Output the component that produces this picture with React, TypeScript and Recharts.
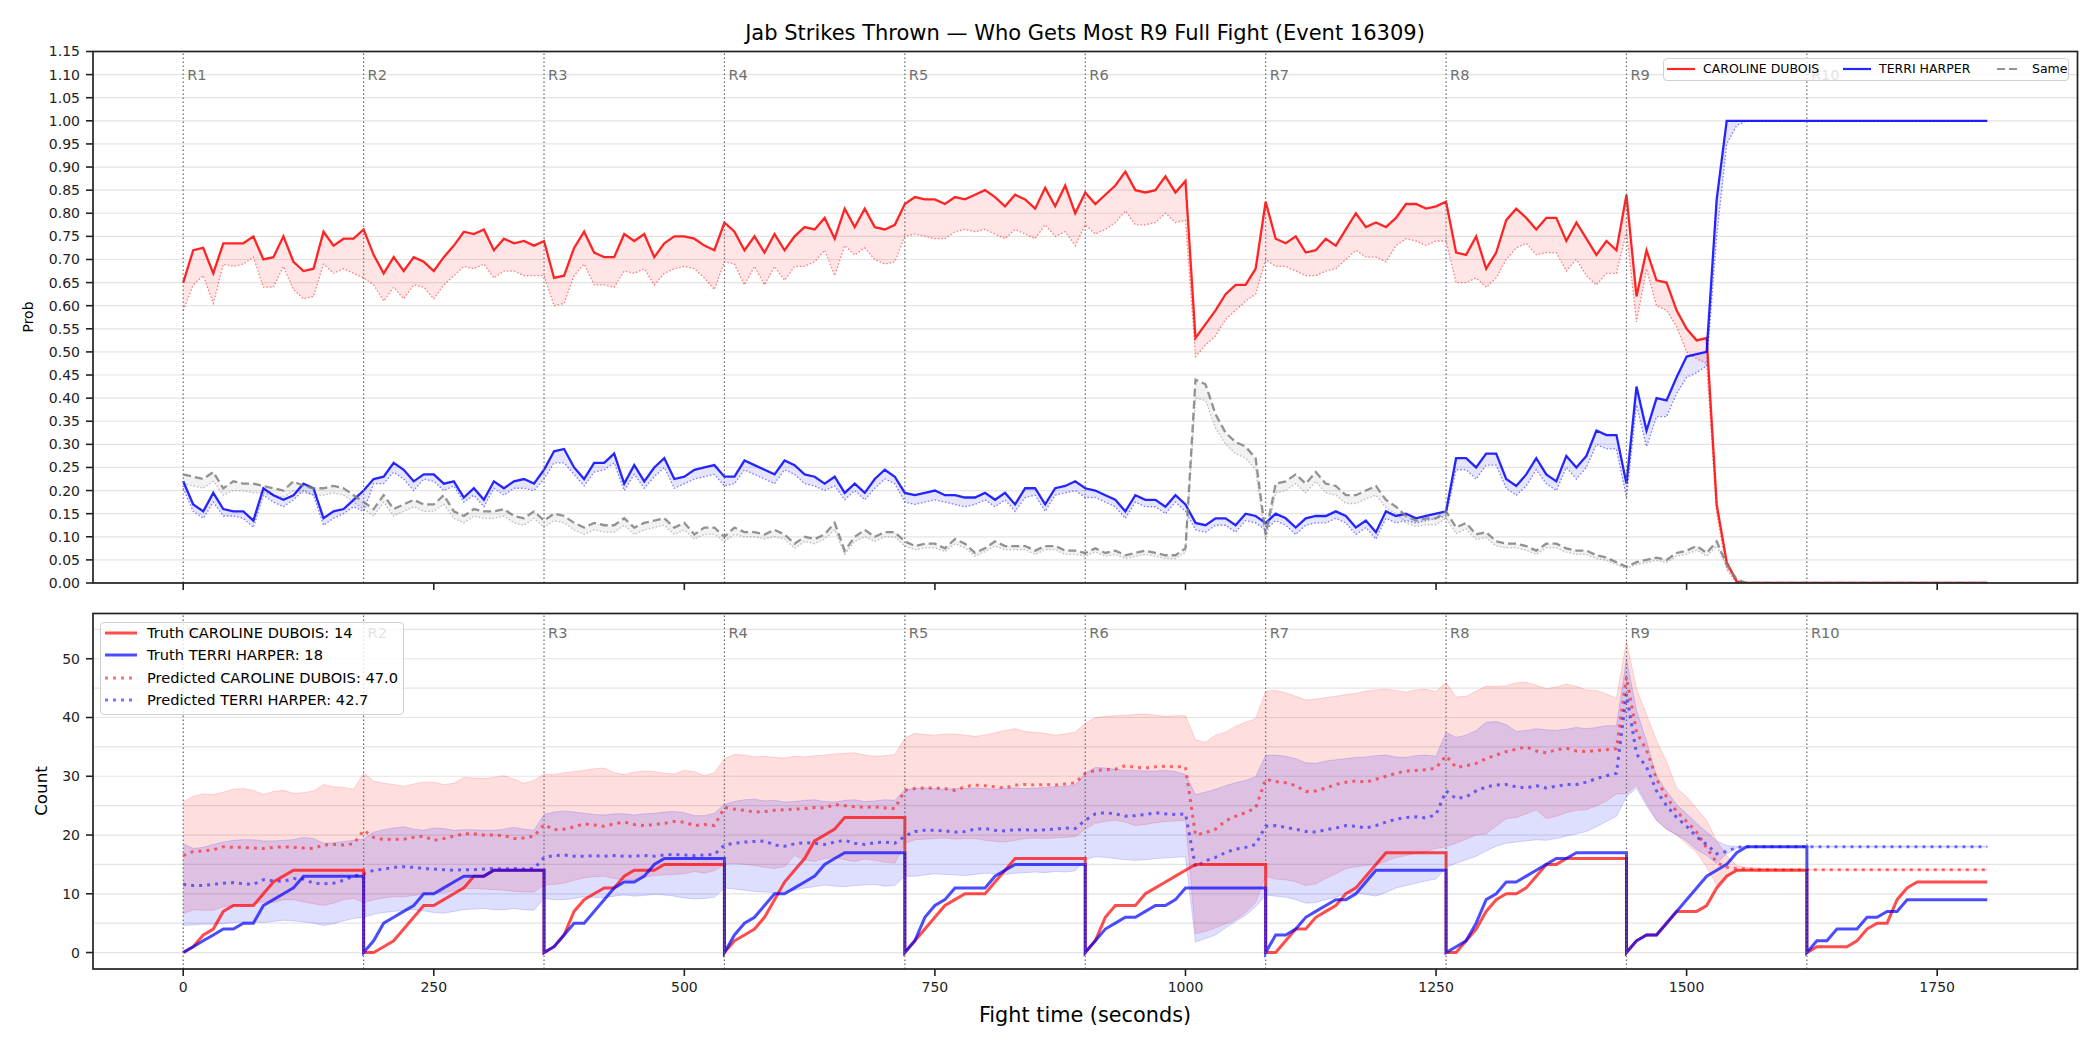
import React from 'react';
import { ComposedChart, Line, Area, XAxis, YAxis, CartesianGrid, ReferenceLine } from 'recharts';

// sample times, one every 10 s over the fight
const secs = Array.from({ length: 181 }, (_, i) => i * 10);
const roundStarts = [0, 180, 360, 540, 720, 900, 1080, 1260, 1440, 1620];
const roundNames = ['R1', 'R2', 'R3', 'R4', 'R5', 'R6', 'R7', 'R8', 'R9', 'R10'];
const timeTicks = [0, 250, 500, 750, 1000, 1250, 1500, 1750];
const probTicks = [0, 0.05, 0.1, 0.15, 0.2, 0.25, 0.3, 0.35, 0.4, 0.45, 0.5, 0.55, 0.6, 0.65, 0.7, 0.75, 0.8, 0.85, 0.9, 0.95, 1, 1.05, 1.1, 1.15];
const countTicks = [0, 10, 20, 30, 40, 50];
const countGrid = [0, 5, 10, 15, 20, 25, 30, 35, 40, 45, 50, 55];

// win probability, CAROLINE DUBOIS (line) and its lower bound (dotted)
const probRed = [
  [0.65, 0.72, 0.725, 0.67, 0.735, 0.735, 0.735, 0.75, 0.7, 0.705, 0.75, 0.695, 0.675, 0.68, 0.76, 0.73, 0.745, 0.745],
  [0.765, 0.71, 0.67, 0.705, 0.675, 0.705, 0.695, 0.675, 0.705, 0.73, 0.76, 0.755, 0.765, 0.72, 0.745, 0.735, 0.74, 0.73],
  [0.74, 0.66, 0.665, 0.725, 0.76, 0.715, 0.705, 0.705, 0.755, 0.74, 0.755, 0.705, 0.735, 0.75, 0.75, 0.745, 0.73, 0.72],
  [0.78, 0.76, 0.72, 0.75, 0.715, 0.755, 0.72, 0.75, 0.77, 0.765, 0.79, 0.745, 0.81, 0.77, 0.81, 0.77, 0.765, 0.775],
  [0.82, 0.835, 0.83, 0.83, 0.82, 0.835, 0.83, 0.84, 0.85, 0.835, 0.815, 0.84, 0.83, 0.81, 0.855, 0.815, 0.86, 0.8],
  [0.845, 0.82, 0.84, 0.86, 0.89, 0.85, 0.845, 0.85, 0.88, 0.845, 0.87, 0.53, 0.56, 0.59, 0.625, 0.645, 0.645, 0.68],
  [0.825, 0.745, 0.735, 0.75, 0.715, 0.72, 0.745, 0.73, 0.765, 0.8, 0.77, 0.78, 0.77, 0.79, 0.82, 0.82, 0.81, 0.815],
  [0.825, 0.715, 0.71, 0.75, 0.68, 0.715, 0.785, 0.81, 0.79, 0.765, 0.79, 0.79, 0.74, 0.78, 0.745, 0.71, 0.74, 0.72],
  [0.84, 0.62, 0.72, 0.655, 0.65, 0.59, 0.55, 0.525, 0.53, 0.17, 0.045, 0.003, 0, 0, 0, 0, 0, 0],
  [0, 0, 0, 0, 0, 0, 0, 0, 0, 0, 0, 0, 0, 0, 0, 0, 0, 0, 0],
].flat();
const probRedLow = [
  [0.59, 0.645, 0.665, 0.605, 0.69, 0.685, 0.69, 0.705, 0.64, 0.64, 0.685, 0.635, 0.615, 0.62, 0.69, 0.67, 0.68, 0.67],
  [0.66, 0.645, 0.61, 0.64, 0.615, 0.645, 0.64, 0.615, 0.645, 0.665, 0.685, 0.68, 0.69, 0.66, 0.675, 0.675, 0.665, 0.665],
  [0.665, 0.6, 0.605, 0.665, 0.69, 0.645, 0.645, 0.64, 0.675, 0.67, 0.68, 0.645, 0.67, 0.68, 0.685, 0.68, 0.66, 0.635],
  [0.695, 0.69, 0.645, 0.685, 0.645, 0.685, 0.655, 0.685, 0.685, 0.695, 0.72, 0.665, 0.73, 0.71, 0.725, 0.7, 0.69, 0.695],
  [0.75, 0.755, 0.75, 0.745, 0.745, 0.76, 0.765, 0.76, 0.765, 0.755, 0.745, 0.765, 0.755, 0.745, 0.775, 0.75, 0.76, 0.73],
  [0.775, 0.755, 0.765, 0.78, 0.805, 0.775, 0.775, 0.78, 0.8, 0.78, 0.785, 0.49, 0.515, 0.535, 0.57, 0.59, 0.61, 0.625],
  [0.7, 0.685, 0.685, 0.675, 0.665, 0.665, 0.675, 0.68, 0.7, 0.72, 0.705, 0.705, 0.695, 0.73, 0.745, 0.74, 0.73, 0.74],
  [0.74, 0.65, 0.65, 0.66, 0.64, 0.66, 0.7, 0.725, 0.735, 0.71, 0.715, 0.715, 0.675, 0.7, 0.665, 0.645, 0.67, 0.67],
  [0.76, 0.565, 0.68, 0.6, 0.59, 0.555, 0.5, 0.485, 0.475, 0.15, 0.03, 0, 0, 0, 0, 0, 0, 0],
  [0, 0, 0, 0, 0, 0, 0, 0, 0, 0, 0, 0, 0, 0, 0, 0, 0, 0, 0],
].flat();

// win probability, TERRI HARPER
const probBlue = [
  [0.22, 0.17, 0.155, 0.195, 0.16, 0.155, 0.155, 0.135, 0.205, 0.19, 0.18, 0.19, 0.215, 0.205, 0.14, 0.155, 0.16, 0.18],
  [0.2, 0.225, 0.23, 0.26, 0.245, 0.22, 0.235, 0.235, 0.215, 0.22, 0.185, 0.205, 0.18, 0.22, 0.205, 0.22, 0.225, 0.215],
  [0.245, 0.285, 0.29, 0.25, 0.225, 0.26, 0.26, 0.28, 0.215, 0.255, 0.22, 0.25, 0.27, 0.225, 0.23, 0.245, 0.25, 0.255],
  [0.23, 0.23, 0.265, 0.255, 0.245, 0.235, 0.265, 0.255, 0.235, 0.23, 0.215, 0.23, 0.195, 0.215, 0.195, 0.225, 0.245, 0.23],
  [0.195, 0.19, 0.195, 0.2, 0.19, 0.19, 0.185, 0.185, 0.195, 0.18, 0.195, 0.17, 0.205, 0.205, 0.17, 0.205, 0.21, 0.22],
  [0.205, 0.2, 0.19, 0.18, 0.155, 0.19, 0.18, 0.18, 0.165, 0.19, 0.17, 0.13, 0.125, 0.14, 0.14, 0.125, 0.15, 0.145],
  [0.13, 0.15, 0.14, 0.12, 0.14, 0.145, 0.145, 0.155, 0.145, 0.12, 0.135, 0.11, 0.155, 0.145, 0.15, 0.14, 0.145, 0.15],
  [0.155, 0.27, 0.27, 0.25, 0.28, 0.28, 0.225, 0.21, 0.235, 0.27, 0.235, 0.22, 0.275, 0.25, 0.275, 0.33, 0.32, 0.32],
  [0.215, 0.425, 0.33, 0.4, 0.395, 0.445, 0.49, 0.495, 0.5, 0.83, 1, 1, 1, 1, 1, 1, 1, 1],
  [1, 1, 1, 1, 1, 1, 1, 1, 1, 1, 1, 1, 1, 1, 1, 1, 1, 1, 1],
].flat();
const probBlueLow = [
  [0.205, 0.155, 0.14, 0.175, 0.145, 0.145, 0.14, 0.12, 0.19, 0.175, 0.165, 0.18, 0.2, 0.19, 0.125, 0.14, 0.15, 0.165],
  [0.155, 0.215, 0.215, 0.24, 0.225, 0.2, 0.225, 0.22, 0.2, 0.21, 0.175, 0.19, 0.165, 0.205, 0.19, 0.205, 0.205, 0.2],
  [0.225, 0.26, 0.26, 0.235, 0.21, 0.24, 0.245, 0.26, 0.2, 0.235, 0.205, 0.23, 0.25, 0.205, 0.215, 0.225, 0.23, 0.235],
  [0.21, 0.215, 0.245, 0.235, 0.225, 0.215, 0.245, 0.235, 0.215, 0.21, 0.2, 0.21, 0.18, 0.2, 0.18, 0.205, 0.225, 0.215],
  [0.175, 0.17, 0.175, 0.18, 0.175, 0.17, 0.165, 0.17, 0.18, 0.165, 0.18, 0.155, 0.185, 0.19, 0.155, 0.19, 0.195, 0.2],
  [0.185, 0.185, 0.175, 0.165, 0.14, 0.175, 0.165, 0.165, 0.15, 0.175, 0.155, 0.115, 0.11, 0.125, 0.125, 0.11, 0.135, 0.13],
  [0.115, 0.135, 0.125, 0.105, 0.125, 0.13, 0.13, 0.14, 0.13, 0.105, 0.12, 0.095, 0.14, 0.13, 0.135, 0.13, 0.135, 0.14],
  [0.145, 0.245, 0.245, 0.225, 0.255, 0.255, 0.205, 0.19, 0.21, 0.245, 0.215, 0.2, 0.25, 0.225, 0.25, 0.3, 0.29, 0.29],
  [0.185, 0.385, 0.295, 0.36, 0.36, 0.41, 0.445, 0.455, 0.47, 0.75, 0.95, 0.99, 1, 1, 1, 1, 1, 1],
  [1, 1, 1, 1, 1, 1, 1, 1, 1, 1, 1, 1, 1, 1, 1, 1, 1, 1, 1],
].flat();

// probability that both throw the same number
const probSame = [
  [0.235, 0.23, 0.225, 0.24, 0.205, 0.22, 0.215, 0.215, 0.21, 0.205, 0.2, 0.22, 0.21, 0.205, 0.205, 0.21, 0.205, 0.19],
  [0.175, 0.16, 0.19, 0.16, 0.17, 0.18, 0.17, 0.17, 0.19, 0.155, 0.145, 0.16, 0.155, 0.155, 0.16, 0.145, 0.14, 0.155],
  [0.135, 0.15, 0.145, 0.13, 0.12, 0.13, 0.125, 0.125, 0.14, 0.12, 0.13, 0.135, 0.14, 0.12, 0.13, 0.105, 0.12, 0.12],
  [0.1, 0.12, 0.11, 0.11, 0.105, 0.115, 0.105, 0.085, 0.1, 0.095, 0.105, 0.13, 0.07, 0.1, 0.115, 0.1, 0.11, 0.11],
  [0.09, 0.08, 0.085, 0.085, 0.075, 0.095, 0.085, 0.065, 0.075, 0.09, 0.08, 0.08, 0.08, 0.07, 0.08, 0.08, 0.07, 0.07],
  [0.065, 0.075, 0.065, 0.07, 0.06, 0.065, 0.07, 0.065, 0.06, 0.06, 0.075, 0.44, 0.43, 0.365, 0.325, 0.305, 0.295, 0.27],
  [0.105, 0.215, 0.22, 0.235, 0.215, 0.24, 0.215, 0.21, 0.19, 0.19, 0.2, 0.21, 0.18, 0.165, 0.145, 0.135, 0.14, 0.14],
  [0.155, 0.12, 0.13, 0.105, 0.11, 0.09, 0.085, 0.085, 0.08, 0.07, 0.085, 0.085, 0.075, 0.07, 0.07, 0.06, 0.055, 0.045],
  [0.035, 0.045, 0.05, 0.055, 0.05, 0.065, 0.07, 0.08, 0.065, 0.09, 0.04, 0.008, 0, 0, 0, 0, 0, 0],
  [0, 0, 0, 0, 0, 0, 0, 0, 0, 0, 0, 0, 0, 0, 0, 0, 0, 0, 0],
].flat();
const probSameLow = [
  [0.215, 0.21, 0.205, 0.22, 0.19, 0.2, 0.2, 0.195, 0.195, 0.19, 0.185, 0.2, 0.195, 0.19, 0.19, 0.195, 0.19, 0.175],
  [0.16, 0.145, 0.175, 0.145, 0.155, 0.165, 0.155, 0.155, 0.17, 0.14, 0.13, 0.145, 0.14, 0.14, 0.145, 0.13, 0.125, 0.14],
  [0.12, 0.135, 0.13, 0.115, 0.105, 0.115, 0.11, 0.11, 0.125, 0.105, 0.115, 0.12, 0.125, 0.105, 0.115, 0.095, 0.105, 0.105],
  [0.09, 0.105, 0.1, 0.1, 0.095, 0.1, 0.095, 0.075, 0.09, 0.085, 0.095, 0.115, 0.062, 0.09, 0.1, 0.09, 0.1, 0.1],
  [0.08, 0.072, 0.076, 0.076, 0.068, 0.085, 0.076, 0.058, 0.068, 0.08, 0.072, 0.072, 0.072, 0.062, 0.072, 0.072, 0.062, 0.062],
  [0.058, 0.067, 0.058, 0.062, 0.053, 0.058, 0.062, 0.058, 0.053, 0.053, 0.066, 0.4, 0.395, 0.335, 0.3, 0.28, 0.27, 0.245],
  [0.09, 0.195, 0.2, 0.215, 0.195, 0.22, 0.195, 0.19, 0.172, 0.172, 0.182, 0.19, 0.163, 0.15, 0.13, 0.122, 0.126, 0.126],
  [0.14, 0.107, 0.117, 0.094, 0.098, 0.08, 0.076, 0.076, 0.071, 0.062, 0.076, 0.076, 0.067, 0.062, 0.062, 0.053, 0.049, 0.04],
  [0.031, 0.04, 0.044, 0.049, 0.044, 0.058, 0.062, 0.071, 0.058, 0.08, 0.035, 0.006, 0, 0, 0, 0, 0, 0],
  [0, 0, 0, 0, 0, 0, 0, 0, 0, 0, 0, 0, 0, 0, 0, 0, 0, 0, 0],
].flat();

// actual cumulative jab counts within each round
const truthRed = [
  [0, 1, 3, 4, 7, 8, 8, 8, 10, 12, 13, 14, 14, 14, 14, 14, 14, 14],
  [0, 0, 1, 2, 4, 6, 8, 8, 9, 10, 11, 13, 13, 14, 14, 14, 14, 14],
  [0, 1, 3, 7, 9, 10, 11, 11, 13, 14, 14, 14, 15, 15, 15, 15, 15, 15],
  [0, 2, 3, 4, 6, 9, 12, 14, 16, 19, 20, 21, 23, 23, 23, 23, 23, 23],
  [0, 2, 4, 6, 8, 9, 10, 10, 10, 12, 14, 16, 16, 16, 16, 16, 16, 16],
  [0, 2, 6, 8, 8, 8, 10, 11, 12, 13, 14, 15, 15, 15, 15, 15, 15, 15],
  [0, 0, 2, 4, 4, 6, 7, 8, 10, 11, 13, 15, 17, 17, 17, 17, 17, 17],
  [0, 0, 2, 4, 7, 9, 10, 10, 11, 13, 15, 15, 16, 16, 16, 16, 16, 16],
  [0, 2, 3, 3, 5, 7, 7, 7, 8, 11, 13, 14, 14, 14, 14, 14, 14, 14],
  [0, 1, 1, 1, 1, 2, 4, 5, 5, 9, 11, 12, 12, 12, 12, 12, 12, 12, 12],
].flat();
const truthBlue = [
  [0, 1, 2, 3, 4, 4, 5, 5, 8, 9, 10, 11, 13, 13, 13, 13, 13, 13],
  [0, 2, 5, 6, 7, 8, 10, 10, 11, 12, 13, 13, 13, 14, 14, 14, 14, 14],
  [0, 1, 3, 5, 5, 7, 9, 11, 12, 12, 13, 15, 16, 16, 16, 16, 16, 16],
  [0, 3, 5, 6, 8, 10, 10, 11, 12, 13, 15, 16, 17, 17, 17, 17, 17, 17],
  [0, 2, 6, 8, 9, 11, 11, 11, 11, 13, 14, 15, 15, 15, 15, 15, 15, 15],
  [0, 2, 4, 5, 6, 6, 7, 8, 8, 9, 11, 11, 11, 11, 11, 11, 11, 11],
  [0, 3, 3, 4, 6, 7, 8, 9, 9, 10, 12, 14, 14, 14, 14, 14, 14, 14],
  [0, 1, 2, 5, 9, 10, 12, 12, 13, 14, 15, 16, 16, 17, 17, 17, 17, 17],
  [0, 2, 3, 3, 5, 7, 9, 11, 13, 14, 15, 17, 18, 18, 18, 18, 18, 18],
  [0, 2, 2, 4, 4, 4, 6, 6, 7, 7, 9, 9, 9, 9, 9, 9, 9, 9, 9],
].flat();

// predicted totals and their ranges
const predRed = [
  [16.5, 17.2, 17.3, 17.5, 18, 17.9, 17.9, 17.8, 17.7, 17.9, 18, 17.9, 17.8, 17.7, 18.3, 18.4, 18.3, 18.5],
  [20.8, 19.6, 19.2, 19.3, 19.3, 19.6, 19.8, 19.1, 19.4, 19.8, 20.2, 20.2, 20, 20, 19.9, 19.4, 19.5, 19.8],
  [21.8, 20.9, 21, 21.4, 21.9, 21.7, 21.5, 21.9, 22.2, 21.8, 21.6, 21.8, 22, 22.3, 22.2, 21.6, 21.8, 21.6],
  [24.7, 24.4, 24.2, 23.9, 24, 24.2, 24.3, 24.4, 24.5, 24.7, 24.6, 25.2, 25, 24.8, 24.7, 24.8, 24.6, 24.5],
  [27.6, 27.9, 28, 28, 27.9, 27.6, 28.2, 28.5, 28.4, 28.2, 28, 28.5, 28.6, 28.5, 28.6, 28.5, 28.7, 28.9],
  [30.5, 31, 31.1, 31.2, 31.8, 31.5, 31.4, 31.6, 31.7, 31.6, 31.6, 20, 20.4, 21, 22.4, 23.2, 23.8, 24.6],
  [29.5, 29.1, 28.9, 28.4, 27.4, 27.5, 28, 28.6, 29, 29.2, 29, 29.5, 30, 30.5, 30.9, 31, 31.1, 31.4],
  [33.5, 31.5, 31.8, 32.2, 33, 33.6, 34.2, 34.6, 35, 34.3, 34, 34.5, 34.8, 34.3, 34.2, 34.4, 34.5, 34.7],
  [46.9, 37.5, 34.5, 29.5, 26.5, 24, 22.3, 20.5, 17.8, 15.3, 14.5, 14.3, 14.2, 14.1, 14.1, 14.1, 14.1, 14.1],
  [14.1, 14.1, 14.1, 14.1, 14.1, 14.1, 14.1, 14.1, 14.1, 14.1, 14.1, 14.1, 14.1, 14.1, 14.1, 14.1, 14.1, 14.1, 14.1],
].flat();
const predBlue = [
  [11.6, 11.4, 11.4, 11.6, 11.8, 11.9, 11.7, 11.6, 12.4, 12.2, 12.1, 12.6, 12.5, 11.8, 11.7, 11.8, 12.3, 13],
  [13.4, 14, 14.2, 14.5, 14.6, 14.5, 14.3, 14.2, 14.1, 14, 14.1, 14.1, 14.2, 14.3, 14.2, 14.3, 14.2, 14.3],
  [16.2, 16.5, 16.6, 16.4, 16.4, 16.5, 16.4, 16.5, 16.4, 16.4, 16.5, 16.4, 16.6, 16.7, 16.6, 16.5, 16.6, 16.7],
  [18.3, 18.6, 18.8, 18.9, 19, 18.3, 18.1, 18.5, 18.7, 18.6, 18.4, 18.8, 19.1, 18.6, 18.4, 18.7, 18.8, 18.6],
  [19.8, 20.6, 20.8, 20.8, 20.7, 20.5, 20.6, 21, 21.1, 20.8, 20.7, 20.9, 20.9, 20.8, 20.9, 21, 21.2, 21.1],
  [22.5, 23.6, 23.8, 23.6, 23.2, 23.3, 23.5, 23.8, 23.6, 23.5, 23.6, 14.6, 15.6, 16.2, 17, 17.6, 17.9, 18.4],
  [21.5, 21.6, 21.3, 21, 20.6, 20.5, 20.9, 21.2, 21.6, 21.5, 21.2, 21.6, 22.2, 22.7, 23, 23.1, 22.9, 23.5],
  [27.5, 26.2, 26.5, 27.5, 28.2, 28.5, 28.6, 28.2, 28, 28.4, 28, 28.3, 28.6, 28.6, 29, 29.6, 30.1, 30.5],
  [44, 33.8, 31.6, 27.5, 25, 23, 21.5, 19.7, 18.4, 16.8, 17.2, 17.9, 18, 18, 18, 18, 18, 18],
  [18, 18, 18, 18, 18, 18, 18, 18, 18, 18, 18, 18, 18, 18, 18, 18, 18, 18, 18],
].flat();
const redHigh = [
  [25.6, 26.6, 27, 26.9, 27.3, 27.8, 27.9, 27.6, 26.9, 27.4, 27.6, 27.1, 27.2, 27.5, 28.6, 28.2, 28.1, 27.8],
  [30.5, 29.2, 28.8, 28.6, 28.3, 28.7, 29, 29, 28.6, 28.8, 29.8, 29.7, 29.6, 29.8, 30.1, 29.5, 28.8, 29.3],
  [30.4, 30.3, 30.6, 30.8, 31, 31.3, 31.4, 30.6, 30.3, 30.7, 30.9, 30.8, 30.5, 30.4, 31, 30.8, 30.1, 30.6],
  [33, 33.7, 33.6, 33.3, 33.4, 33.2, 33.1, 33.4, 33.3, 33.5, 33.6, 33.8, 33.9, 34, 33.6, 33.4, 33.5, 33.7],
  [36.5, 37.3, 37.1, 37, 37.2, 37.2, 37, 36.8, 37, 37.4, 37.8, 38.1, 37.6, 37.5, 37.3, 37, 37.2, 37.5],
  [39, 40, 40.2, 40.3, 40.4, 40.5, 40.6, 40.4, 40.2, 40.3, 40.3, 36.2, 35.8, 37, 37.5, 38.5, 39.2, 39.8],
  [44.5, 44.6, 44.2, 43.6, 43, 43.1, 43.4, 43.6, 43.9, 44.1, 44.5, 44.7, 44.8, 44.6, 44.3, 44.7, 44.8, 44.4],
  [46, 43.5, 43.6, 44.5, 45.3, 45.3, 45.4, 45.9, 46, 45.5, 44.9, 45.2, 45.7, 45.3, 44.7, 44.6, 44, 43.3],
  [53, 44.9, 40.5, 36.1, 32.5, 28, 26.5, 24.5, 22.5, 19, 16.5, 14.8, 14.5, 14.4, 14.3, 14.2, 14.2, 14.2],
  [14.1, 14.1, 14.1, 14.1, 14.1, 14.1, 14.1, 14.1, 14.1, 14.1, 14.1, 14.1, 14.1, 14.1, 14.1, 14.1, 14.1, 14.1, 14.1],
].flat();
const redLow = [
  [6.6, 7.3, 7.2, 7.2, 7.8, 8, 8.2, 8.3, 8.6, 8.5, 9, 9, 8.6, 8.3, 8, 8.4, 9, 9.2],
  [8.5, 9, 9.3, 9.5, 9.5, 9.7, 10, 10.1, 10.2, 10.5, 10.8, 10.9, 10.8, 10.7, 10.6, 10.4, 10.3, 10.3],
  [11.5, 11.6, 11.8, 12.3, 12.7, 12.9, 13, 12.6, 12.4, 12.4, 12.8, 13.1, 13.2, 13.3, 13.4, 13.8, 13.5, 13.9],
  [15, 15.2, 15, 14.8, 14.5, 14.3, 14.6, 16.5, 15.8, 15.5, 16, 16.2, 15.8, 15.5, 15.9, 15.7, 15.4, 15.2],
  [18.6, 19.2, 19.3, 19.4, 19.5, 19.3, 19.4, 19.4, 19.1, 18.9, 18.8, 19.1, 19.4, 19.5, 19.4, 19.5, 19.6, 19.7],
  [21, 22, 22.3, 22.5, 22.2, 21.6, 21.8, 22.1, 22.3, 22.4, 22.5, 3.2, 3.6, 4.2, 4.9, 5.6, 6.8, 8.5],
  [13, 12.5, 12.4, 12, 11.4, 11.7, 12.6, 13.4, 14.3, 14.6, 14.8, 15, 15.5, 16.2, 16.5, 16.9, 17.2, 17.7],
  [18, 18.6, 19.3, 20, 20.2, 21.5, 22.8, 23, 23.6, 24.3, 22.8, 23.2, 23.8, 24.2, 24.3, 25, 25.8, 27],
  [27, 28.5, 25.5, 22.5, 21, 20, 18.5, 17, 14.5, 11.5, 13, 13.9, 14, 14.1, 14.1, 14.1, 14.1, 14.1],
  [14.1, 14.1, 14.1, 14.1, 14.1, 14.1, 14.1, 14.1, 14.1, 14.1, 14.1, 14.1, 14.1, 14.1, 14.1, 14.1, 14.1, 14.1, 14.1],
].flat();
const blueHigh = [
  [18.5, 17.7, 17.9, 18.4, 18.8, 19.1, 19.2, 19.2, 19, 19, 19.1, 19.2, 19.6, 19.4, 18.6, 18.7, 18.9, 19.1],
  [19.3, 20.5, 20.9, 21.2, 21.4, 21, 20.8, 21.2, 21.1, 20.8, 20.9, 20.9, 20.8, 20.8, 21, 21.3, 21, 20.8],
  [23.5, 23.9, 24.1, 23.9, 23.7, 23.5, 23.4, 23.6, 23.6, 23.4, 23.6, 23.7, 23.9, 24, 23.8, 23.3, 23.3, 23.7],
  [25.2, 25.7, 26, 26.1, 25.8, 25.9, 25.6, 25.7, 25.9, 26, 25.7, 25.6, 25.9, 26, 25.7, 25.8, 26, 25.9],
  [27.7, 27.9, 28, 27.9, 27.8, 27.9, 27.9, 28, 27.9, 27.8, 27.9, 28, 27.9, 28, 28.1, 28.2, 28.3, 28.5],
  [30.5, 31.5, 31.4, 31.2, 31, 31, 30.9, 30.9, 31, 30.8, 30.3, 26.9, 27.3, 27.8, 28.4, 28.9, 29.3, 29.9],
  [33.6, 33.6, 33.4, 33, 32.3, 32.2, 32.6, 32.8, 33, 33.2, 33.3, 33.5, 33.6, 33.3, 33.2, 33.5, 33.6, 33.4],
  [37.5, 36.6, 37, 37.8, 39.2, 39.3, 38.8, 37.6, 37.8, 38.1, 37.9, 37.8, 38, 38.3, 38.1, 38.3, 38.6, 38.6],
  [50, 41.2, 36, 30, 27.5, 25.2, 23.6, 22, 20.5, 19, 18.2, 18.1, 18, 18, 18, 18, 18, 18],
  [18, 18, 18, 18, 18, 18, 18, 18, 18, 18, 18, 18, 18, 18, 18, 18, 18, 18, 18],
].flat();
const blueLow = [
  [4.6, 4.7, 4.8, 4.8, 4.9, 5.1, 5.2, 5.2, 5.1, 5.3, 5.5, 5.4, 5.2, 5, 4.6, 4.9, 5.4, 5.8],
  [6, 6.5, 6.8, 7, 7.2, 7.3, 7.1, 6.8, 6.7, 7, 7.3, 7.4, 7.5, 7.3, 7.3, 7.5, 7.3, 7.2],
  [9.2, 9, 9, 9.2, 9.5, 9.4, 9.3, 9.6, 9.8, 9.6, 9.7, 9.9, 9.8, 9.6, 9.3, 9.1, 9.2, 9.4],
  [11, 10.8, 10.6, 10.4, 10.3, 10.2, 10.4, 10.6, 11, 11.2, 11.5, 11.3, 11.2, 11.4, 11.5, 11.6, 11.3, 11.4],
  [13, 13, 13.2, 13.4, 13.3, 13.2, 13.1, 13.3, 13.5, 13.4, 13.3, 13.5, 13.6, 13.7, 13.6, 13.8, 13.7, 13.9],
  [15.8, 16.3, 16.2, 16, 15.8, 15.7, 15.8, 16, 16.1, 16.2, 16.3, 1.8, 2.4, 3, 4.2, 5.3, 6.3, 7.8],
  [9.8, 9.6, 9.4, 9, 8.4, 8.5, 9, 9.4, 10, 10.1, 9.9, 9.6, 10.2, 11, 11.4, 11.8, 12.2, 12.5],
  [14.5, 15.2, 15.8, 16.4, 17.3, 18.1, 18.6, 18.8, 19, 19.2, 19.1, 19.4, 19.8, 20.2, 20.6, 21.4, 22.3, 23.2],
  [26.5, 28, 25, 22.5, 21, 20, 19, 17.5, 16.5, 15.2, 16.8, 17.8, 18, 18, 18, 18, 18, 18],
  [18, 18, 18, 18, 18, 18, 18, 18, 18, 18, 18, 18, 18, 18, 18, 18, 18, 18, 18],
].flat();

const probRows = secs.map((t, i) => ({
  t,
  red: probRed[i],
  redLo: probRedLow[i],
  redBand: [probRedLow[i], probRed[i]],
  blue: probBlue[i],
  blueLo: probBlueLow[i],
  blueBand: [probBlueLow[i], probBlue[i]],
  same: probSame[i],
  sameLo: probSameLow[i],
  sameBand: [probSameLow[i], probSame[i]],
}));

const countRows = secs.map((t, i) => ({
  t,
  predRed: predRed[i],
  predBlue: predBlue[i],
  redBand: [redLow[i], redHigh[i]],
  blueBand: [blueLow[i], blueHigh[i]],
}));

// the counts reset at every round start: hold the previous total up to the bell, then drop
const truthRows = secs.flatMap((t, i) => {
  const row = { t, truthRed: truthRed[i], truthBlue: truthBlue[i] };
  return i > 0 && roundStarts.includes(t)
    ? [{ t, truthRed: truthRed[i - 1], truthBlue: truthBlue[i - 1] }, row]
    : [row];
});

const FONT = 'DejaVu Sans';
const INK = '#222';
const tickStyle = { fill: INK, fontSize: 14, fontFamily: FONT };

const roundLines = (labelDy: number) =>
  roundStarts.map((r, i) => (
    <ReferenceLine
      key={r}
      x={r}
      stroke="#666"
      strokeWidth={1.2}
      strokeDasharray="1.5 2.5"
      label={(p: any) => (
        <text x={p.viewBox.x + 4} y={p.viewBox.y + labelDy} fill="#707070" fontSize={14.6} fontFamily={FONT}>
          {roundNames[i]}
        </text>
      )}
    />
  ));

const LegendLine = ({ color, dash, width = 2.2, len = 28 }: { color: string; dash?: string; width?: number; len?: number }) => (
  <svg width={len} height={10} style={{ display: 'block' }}>
    <line x1={0} y1={5} x2={len} y2={5} stroke={color} strokeWidth={width} strokeDasharray={dash} />
  </svg>
);

export default function App() {
  return (
    <div style={{ position: 'absolute', left: 0, top: 0, width: 2100, height: 1050, background: '#fff', fontFamily: FONT }}>
      <div style={{ position: 'absolute', left: 0, top: 0 }}>
        <ComposedChart width={2100} height={600} data={probRows} margin={{ top: 51.5, right: 22.5, bottom: 0, left: 0 }}>
          <CartesianGrid vertical={false} stroke="#e4e4e4" strokeWidth={1.2} />
          <XAxis
            dataKey="t"
            type="number"
            domain={[-90, 1890]}
            ticks={timeTicks}
            interval={0}
            height={17}
            axisLine={false}
            tickLine={{ stroke: INK, strokeWidth: 1.6 }}
            tickSize={7}
            tickFormatter={() => ''}
            allowDataOverflow
          />
          <YAxis
            domain={[0, 1.15]}
            ticks={probTicks}
            interval={0}
            width={93}
            axisLine={false}
            tickLine={{ stroke: INK, strokeWidth: 1.6 }}
            tickSize={7}
            tickMargin={6}
            tick={tickStyle}
            tickFormatter={(v: number) => v.toFixed(2)}
            allowDataOverflow
          />
          <Area dataKey="redBand" type="linear" stroke="none" fill="#ff0000" fillOpacity={0.1} isAnimationActive={false} dot={false} activeDot={false} />
          <Area dataKey="blueBand" type="linear" stroke="none" fill="#0000ff" fillOpacity={0.1} isAnimationActive={false} dot={false} activeDot={false} />
          <Area dataKey="sameBand" type="linear" stroke="none" fill="#808080" fillOpacity={0.1} isAnimationActive={false} dot={false} activeDot={false} />
          <Line dataKey="redLo" type="linear" stroke="rgba(255,0,0,0.5)" strokeWidth={1.3} strokeDasharray="1.5 2" dot={false} activeDot={false} isAnimationActive={false} />
          <Line dataKey="blueLo" type="linear" stroke="rgba(0,0,255,0.5)" strokeWidth={1.3} strokeDasharray="1.5 2" dot={false} activeDot={false} isAnimationActive={false} />
          <Line dataKey="sameLo" type="linear" stroke="rgba(128,128,128,0.5)" strokeWidth={1.3} strokeDasharray="1.5 2" dot={false} activeDot={false} isAnimationActive={false} />
          <Line dataKey="red" type="linear" stroke="rgba(255,0,0,0.85)" strokeWidth={2.3} dot={false} activeDot={false} isAnimationActive={false} />
          <Line dataKey="blue" type="linear" stroke="rgba(0,0,255,0.85)" strokeWidth={2.3} dot={false} activeDot={false} isAnimationActive={false} />
          <Line dataKey="same" type="linear" stroke="rgba(128,128,128,0.85)" strokeWidth={2.3} strokeDasharray="8 4" dot={false} activeDot={false} isAnimationActive={false} />
          {roundLines(28.5)}
        </ComposedChart>
      </div>

      <div style={{ position: 'absolute', left: 0, top: 600 }}>
        <ComposedChart width={2100} height={450} data={countRows} margin={{ top: 13.5, right: 22.5, bottom: 0, left: 0 }}>
          <CartesianGrid vertical={false} horizontalValues={countGrid} stroke="#e4e4e4" strokeWidth={1.2} />
          <XAxis
            dataKey="t"
            type="number"
            domain={[-90, 1890]}
            ticks={timeTicks}
            interval={0}
            height={81}
            axisLine={false}
            tickLine={{ stroke: INK, strokeWidth: 1.6 }}
            tickSize={7}
            tickMargin={6}
            tick={tickStyle}
            allowDataOverflow
          />
          <YAxis
            domain={[-2.8, 57.7]}
            ticks={countTicks}
            interval={0}
            width={93}
            axisLine={false}
            tickLine={{ stroke: INK, strokeWidth: 1.6 }}
            tickSize={7}
            tickMargin={6}
            tick={tickStyle}
            allowDataOverflow
          />
          <Area dataKey="redBand" type="linear" stroke="rgba(255,0,0,0.15)" strokeWidth={1} fill="#ff0000" fillOpacity={0.13} isAnimationActive={false} dot={false} activeDot={false} />
          <Area dataKey="blueBand" type="linear" stroke="rgba(0,0,255,0.15)" strokeWidth={1} fill="#0000ff" fillOpacity={0.13} isAnimationActive={false} dot={false} activeDot={false} />
          <Line dataKey="predRed" type="linear" stroke="rgba(255,0,0,0.55)" strokeWidth={3} strokeDasharray="3 5" dot={false} activeDot={false} isAnimationActive={false} />
          <Line dataKey="predBlue" type="linear" stroke="rgba(0,0,255,0.55)" strokeWidth={3} strokeDasharray="3 5" dot={false} activeDot={false} isAnimationActive={false} />
          <Line data={truthRows} dataKey="truthRed" type="linear" stroke="rgba(255,0,0,0.7)" strokeWidth={3} dot={false} activeDot={false} isAnimationActive={false} />
          <Line data={truthRows} dataKey="truthBlue" type="linear" stroke="rgba(0,0,255,0.7)" strokeWidth={3} dot={false} activeDot={false} isAnimationActive={false} />
          {roundLines(24.5)}
        </ComposedChart>
      </div>

      {/* frames, title and axis titles */}
      <svg width={2100} height={1050} style={{ position: 'absolute', left: 0, top: 0, pointerEvents: 'none' }}>
        <rect x={93} y={51.5} width={1984.5} height={531.5} fill="none" stroke={INK} strokeWidth={1.7} />
        <rect x={93} y={613.5} width={1984.5} height={355.5} fill="none" stroke={INK} strokeWidth={1.7} />
        <text x={1085} y={40} textAnchor="middle" fontSize={21} fontFamily={FONT} fill="#000">
          Jab Strikes Thrown — Who Gets Most R9 Full Fight (Event 16309)
        </text>
        <text x={1085} y={1022} textAnchor="middle" fontSize={20.8} fontFamily={FONT} fill="#000">
          Fight time (seconds)
        </text>
        <text transform="translate(33 317) rotate(-90)" textAnchor="middle" fontSize={14} fontFamily={FONT} fill="#000">
          Prob
        </text>
        <text transform="translate(47 791) rotate(-90)" textAnchor="middle" fontSize={16.7} fontFamily={FONT} fill="#000">
          Count
        </text>
      </svg>

      {/* probability legend */}
      <div
        style={{
          position: 'absolute', left: 1663, top: 58, width: 406, height: 23, boxSizing: 'border-box',
          border: '1.5px solid #d0d0d0', borderRadius: 4, background: 'rgba(255,255,255,0.8)',
          fontSize: 12.5, color: '#000', whiteSpace: 'nowrap',
        }}
      >
        <div style={{ position: 'absolute', left: 3, top: 5 }}><LegendLine color="rgba(255,0,0,0.85)" /></div>
        <div style={{ position: 'absolute', left: 39, top: 2, lineHeight: '16px' }}>CAROLINE DUBOIS</div>
        <div style={{ position: 'absolute', left: 179, top: 5 }}><LegendLine color="rgba(0,0,255,0.85)" /></div>
        <div style={{ position: 'absolute', left: 215, top: 2, lineHeight: '16px' }}>TERRI HARPER</div>
        <div style={{ position: 'absolute', left: 333, top: 5 }}><LegendLine color="rgba(128,128,128,0.85)" dash="8 4" len={24} /></div>
        <div style={{ position: 'absolute', left: 368, top: 2, lineHeight: '16px' }}>Same</div>
      </div>

      {/* count legend */}
      <div
        style={{
          position: 'absolute', left: 100, top: 622, width: 304, height: 93, boxSizing: 'border-box',
          border: '1.5px solid #d0d0d0', borderRadius: 4, background: 'rgba(255,255,255,0.8)',
          fontSize: 14.6, color: '#000', whiteSpace: 'nowrap',
        }}
      >
        {[
          { label: 'Truth CAROLINE DUBOIS: 14', color: 'rgba(255,0,0,0.7)', dash: undefined, w: 3 },
          { label: 'Truth TERRI HARPER: 18', color: 'rgba(0,0,255,0.7)', dash: undefined, w: 3 },
          { label: 'Predicted CAROLINE DUBOIS: 47.0', color: 'rgba(255,0,0,0.55)', dash: '3 5', w: 3 },
          { label: 'Predicted TERRI HARPER: 42.7', color: 'rgba(0,0,255,0.55)', dash: '3 5', w: 3 },
        ].map((it, k) => (
          <React.Fragment key={it.label}>
            <div style={{ position: 'absolute', left: 4, top: 5 + k * 22.3 }}>
              <LegendLine color={it.color} dash={it.dash} width={it.w} len={32} />
            </div>
            <div style={{ position: 'absolute', left: 46, top: 1 + k * 22.3, lineHeight: '18px' }}>{it.label}</div>
          </React.Fragment>
        ))}
      </div>
    </div>
  );
}
